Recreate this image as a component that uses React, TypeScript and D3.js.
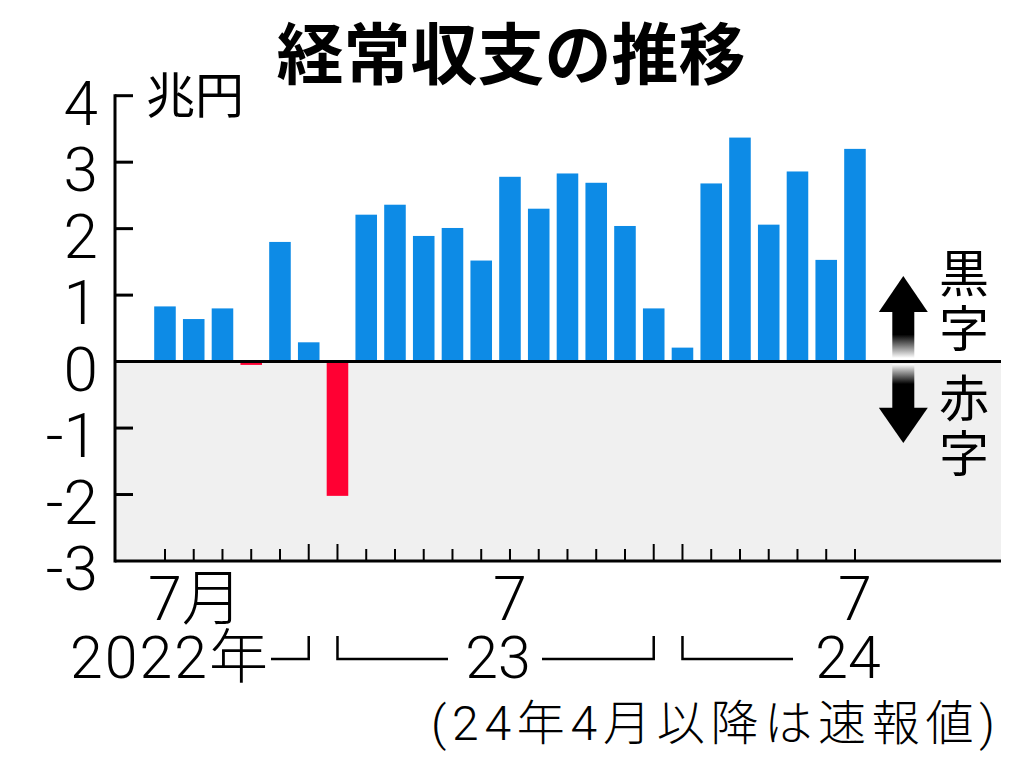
import { useEffect, useRef } from 'react';
import * as d3 from 'd3';

// 経常収支 (兆円), 2022年7月 - 2024年7月
const months = [
  '2022-07', '2022-08', '2022-09', '2022-10', '2022-11', '2022-12',
  '2023-01', '2023-02', '2023-03', '2023-04', '2023-05', '2023-06',
  '2023-07', '2023-08', '2023-09', '2023-10', '2023-11', '2023-12',
  '2024-01', '2024-02', '2024-03', '2024-04', '2024-05', '2024-06',
  '2024-07',
];
const values = [
  0.83, 0.64, 0.80, -0.05, 1.80, 0.29,
  -2.02, 2.21, 2.36, 1.89, 2.01, 1.52,
  2.78, 2.30, 2.83, 2.69, 2.04, 0.80,
  0.21, 2.68, 3.37, 2.06, 2.86, 1.53,
  3.20,
];
const yTicks = [4, 3, 2, 1, 0, -1, -2, -3];
const monthLabels = [
  { month: '2022-07', label: '7月' },
  { month: '2023-07', label: '7' },
  { month: '2024-07', label: '7' },
];

const App = () => {
  const svgRef = useRef(null);

  useEffect(() => {
    const width = 1024;
    const height = 767;
    const font = "'Noto Sans CJK JP', 'Noto Sans', sans-serif";
    const numFont = "Roboto, 'Noto Sans CJK JP', sans-serif";
    const blue = '#0d8be6';
    const red = '#ff0033';

    const svg = d3.select(svgRef.current);
    svg.selectAll('*').remove();
    svg.attr('width', width).attr('height', height).attr('viewBox', `0 0 ${width} ${height}`);

    const axisLeft = 115;
    const axisRight = 1001;

    const yScale = d3.scaleLinear().domain([-3, 4]).range([561, 95.7]);
    const xScale = d3
      .scaleBand()
      .domain(months)
      .range([150.6, 150.6 + months.length * 28.75])
      .paddingInner(0.25)
      .paddingOuter(0.125);
    const cx = (m) => xScale(m) + xScale.bandwidth() / 2;

    // title
    svg
      .append('text')
      .attr('x', 511)
      .attr('y', 79)
      .attr('text-anchor', 'middle')
      .style('font-family', font)
      .style('font-weight', 'bold')
      .style('font-size', '67px')
      .text('経常収支の推移');

    // negative area
    svg
      .append('rect')
      .attr('x', axisLeft)
      .attr('y', yScale(0))
      .attr('width', axisRight - axisLeft)
      .attr('height', yScale(-3) - yScale(0))
      .attr('fill', '#f0f0f0');

    // bars
    svg
      .append('g')
      .selectAll('rect')
      .data(months)
      .enter()
      .append('rect')
      .attr('x', (m) => xScale(m))
      .attr('width', xScale.bandwidth())
      .attr('y', (m, i) => yScale(Math.max(0, values[i])))
      .attr('height', (m, i) => Math.abs(yScale(values[i]) - yScale(0)))
      .attr('fill', (m, i) => (values[i] < 0 ? red : blue));

    // y axis
    svg
      .append('line')
      .attr('x1', axisLeft)
      .attr('x2', axisLeft)
      .attr('y1', yScale(4) - 1.5)
      .attr('y2', yScale(-3) + 1.5)
      .attr('stroke', '#000')
      .attr('stroke-width', 3);

    svg
      .append('g')
      .selectAll('line')
      .data(yTicks.filter((t) => t !== 0 && t !== -3))
      .enter()
      .append('line')
      .attr('x1', axisLeft)
      .attr('x2', 133)
      .attr('y1', (t) => yScale(t))
      .attr('y2', (t) => yScale(t))
      .attr('stroke', '#000')
      .attr('stroke-width', 3);

    svg
      .append('g')
      .selectAll('text')
      .data(yTicks)
      .enter()
      .append('text')
      .attr('x', 98)
      .attr('y', (t) => yScale(t) + 29)
      .attr('text-anchor', 'end')
      .style('font-family', numFont)
      .style('font-weight', 300)
      .style('font-size', '62px')
      .text((t) => (t < 0 ? `-${-t}` : `${t}`));

    svg
      .append('text')
      .attr('x', 146)
      .attr('y', 113)
      .style('font-family', font)
      .style('font-size', '49px')
      .text('兆円');

    // zero line and bottom axis
    [0, -3].forEach((v) => {
      svg
        .append('line')
        .attr('x1', axisLeft)
        .attr('x2', axisRight)
        .attr('y1', yScale(v))
        .attr('y2', yScale(v))
        .attr('stroke', '#000')
        .attr('stroke-width', 3);
    });

    // month ticks (Dec / Jan a bit longer)
    svg
      .append('g')
      .selectAll('line')
      .data(months)
      .enter()
      .append('line')
      .attr('x1', (m) => cx(m))
      .attr('x2', (m) => cx(m))
      .attr('y1', (m) => (m.endsWith('-12') || m.endsWith('-01') ? 544 : 549))
      .attr('y2', yScale(-3))
      .attr('stroke', '#000')
      .attr('stroke-width', 2);

    // month labels ("7" centred on its tick, 月 trailing)
    monthLabels.forEach((d) => {
      svg
        .append('text')
        .attr('x', cx(d.month) - 17)
        .attr('y', 620)
        .style('font-family', numFont)
        .style('font-weight', 300)
        .style('font-size', '61px')
        .text(d.label);
    });

    // year labels and brackets
    const yearFont = '59px';
    const br = (pts) =>
      svg
        .append('path')
        .attr('d', d3.line()(pts))
        .attr('fill', 'none')
        .attr('stroke', '#000')
        .attr('stroke-width', 2.5);
    const top = 636;
    const mid = 659;

    svg
      .append('text')
      .attr('x', 270)
      .attr('y', 678)
      .attr('text-anchor', 'end')
      .style('font-family', numFont)
      .style('font-weight', 300)
      .style('font-size', yearFont)
      .style('letter-spacing', '2px')
      .text('2022年');
    br([[271, mid], [cx('2022-12'), mid], [cx('2022-12'), top]]);

    br([[cx('2023-01'), top], [cx('2023-01'), mid], [448, mid]]);
    svg
      .append('text')
      .attr('x', 498)
      .attr('y', 678)
      .attr('text-anchor', 'middle')
      .style('font-family', numFont)
      .style('font-weight', 300)
      .style('font-size', yearFont)
      .text('23');
    br([[542, mid], [cx('2023-12'), mid], [cx('2023-12'), top]]);

    br([[cx('2024-01'), top], [cx('2024-01'), mid], [793, mid]]);
    svg
      .append('text')
      .attr('x', 848)
      .attr('y', 678)
      .attr('text-anchor', 'middle')
      .style('font-family', numFont)
      .style('font-weight', 300)
      .style('font-size', yearFont)
      .text('24');

    // footnote
    svg
      .append('text')
      .attr('x', 431)
      .attr('y', 740)
      .attr('textLength', 564)
      .attr('lengthAdjust', 'spacing')
      .style('font-family', numFont)
      .style('font-weight', 300)
      .style('font-size', '48px')
      .text('(24年4月以降は速報値)');

    // 黒字 / 赤字 arrows
    const defs = svg.append('defs');
    const gUp = defs
      .append('linearGradient')
      .attr('id', 'fade-up')
      .attr('x1', 0)
      .attr('y1', 0)
      .attr('x2', 0)
      .attr('y2', 1);
    gUp.append('stop').attr('offset', '0.5').attr('stop-color', '#000');
    gUp.append('stop').attr('offset', '1').attr('stop-color', '#fff');
    const gDown = defs
      .append('linearGradient')
      .attr('id', 'fade-down')
      .attr('x1', 0)
      .attr('y1', 0)
      .attr('x2', 0)
      .attr('y2', 1);
    gDown.append('stop').attr('offset', '0').attr('stop-color', '#fff');
    gDown.append('stop').attr('offset', '0.45').attr('stop-color', '#000');

    const ax = 903.3;
    svg
      .append('rect')
      .attr('x', ax - 11)
      .attr('y', 311)
      .attr('width', 22)
      .attr('height', 47)
      .attr('fill', 'url(#fade-up)');
    svg
      .append('path')
      .attr('d', d3.line()([[ax, 276], [ax + 24.5, 312], [ax - 24.5, 312]]) + 'Z')
      .attr('fill', '#000');
    svg
      .append('rect')
      .attr('x', ax - 11)
      .attr('y', 364)
      .attr('width', 22)
      .attr('height', 44.5)
      .attr('fill', 'url(#fade-down)');
    svg
      .append('path')
      .attr('d', d3.line()([[ax - 24.5, 407.7], [ax + 24.5, 407.7], [ax, 443]]) + 'Z')
      .attr('fill', '#000');

    // vertical labels, one text each with stacked tspans
    [
      ['黒', '字', 292],
      ['赤', '字', 416.5],
    ].forEach(([a, b, y]) => {
      const t = svg
        .append('text')
        .attr('x', 964)
        .attr('y', y)
        .attr('text-anchor', 'middle')
        .style('font-family', font)
        .style('font-size', '50px');
      t.append('tspan').attr('x', 964).text(a);
      t.append('tspan').attr('x', 964).attr('dy', 55).text(b);
    });
  }, []);

  return (
    <div style={{ position: 'absolute', left: 0, top: 0 }}>
      <svg ref={svgRef} style={{ display: 'block', background: '#fff' }}></svg>
    </div>
  );
};

export default App;
